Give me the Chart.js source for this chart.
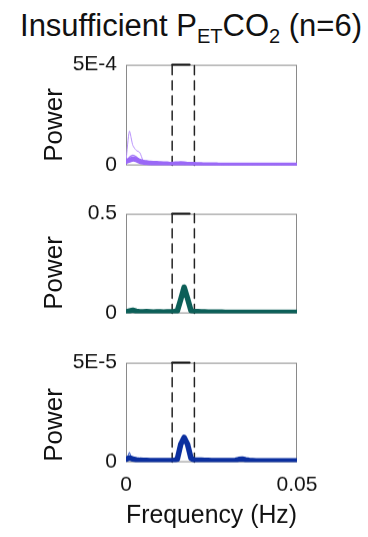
<!DOCTYPE html>
<html>
<head>
<meta charset="utf-8">
<script src="https://cdn.jsdelivr.net/npm/chart.js@4"></script>
<style>
  body { margin: 0; background: #fff; font-family: "Liberation Sans", Arial, sans-serif; }
  #page { position: relative; width: 368px; height: 537px; overflow: hidden; }
  .title { position: absolute; left: 0; width: 382px; top: 8px; text-align: center; font-size: 31px; color: #111; white-space: nowrap; }
  .title sub { font-size: 20px; vertical-align: -7px; line-height: 0; }
  .panel { position: absolute; left: 0; width: 368px; }
  .ylab { position: absolute; font-size: 26px; color: #111; transform: rotate(-90deg); transform-origin: center; width: 100px; text-align: center; line-height: 30px; }
</style>
</head>
<body>
<div id="page">
  <div class="title">Insufficient P<sub>ET</sub>CO<sub>2</sub> (n=6)</div>
  <div class="panel" style="top:43.4px;height:143.2px"><canvas id="c1"></canvas></div>
  <div class="panel" style="top:192.4px;height:142.2px"><canvas id="c2"></canvas></div>
  <div class="panel" style="top:341.4px;height:195.6px"><canvas id="c3"></canvas></div>
  <div class="ylab" style="left:3px;top:110px">Power</div>
  <div class="ylab" style="left:3px;top:258px">Power</div>
  <div class="ylab" style="left:3px;top:410px">Power</div>
</div>
<script>
const freq = [0, 0.001, 0.002, 0.003, 0.004, 0.005, 0.006, 0.007, 0.008, 0.009,
  0.010, 0.011, 0.012, 0.013, 0.014, 0.015, 0.016, 0.017, 0.018, 0.019,
  0.020, 0.021, 0.022, 0.023, 0.024, 0.025, 0.026, 0.027, 0.028, 0.029,
  0.030, 0.031, 0.032, 0.033, 0.034, 0.035, 0.036, 0.037, 0.038, 0.039,
  0.040, 0.041, 0.042, 0.043, 0.044, 0.045, 0.046, 0.047, 0.048, 0.049, 0.050];

// band of interest
const bandLow = 0.0135;
const bandHigh = 0.02;
const bandCap = 0.0186;

// panel 1: insufficient group, purple
const meanA = [2.0e-5, 2.6e-5, 3.2e-5, 2.9e-5, 2.1e-5, 1.6e-5, 1.4e-5, 1.2e-5, 1.1e-5, 1.1e-5,
  0.9e-5, 0.8e-5, 0.8e-5, 0.6e-5, 0.7e-5, 0.8e-5, 0.9e-5, 0.8e-5, 0.6e-5, 0.5e-5,
  0.5e-5, 0.4e-5, 0.4e-5, 0.3e-5, 0.3e-5, 0.3e-5, 0.3e-5, 0.2e-5, 0.2e-5, 0.2e-5,
  0.2e-5, 0.2e-5, 0.2e-5, 0.2e-5, 0.2e-5, 0.2e-5, 0.2e-5, 0.2e-5, 0.2e-5, 0.2e-5,
  0.2e-5, 0.2e-5, 0.2e-5, 0.2e-5, 0.2e-5, 0.2e-5, 0.2e-5, 0.2e-5, 0.2e-5, 0.2e-5, 0.2e-5];
const subA1 = [2.0e-5, 1.7e-4, 1.0e-4, 7.5e-5, 6.5e-5, 2.5e-5, 1.2e-5, 1.0e-5, 0.8e-5, 0.8e-5,
  0.6e-5, 0.5e-5, 0.5e-5, 0.4e-5, 0.5e-5, 0.6e-5, 0.6e-5, 0.5e-5, 0.4e-5, 0.3e-5,
  0.3e-5, 0.2e-5, 0.2e-5, 0.2e-5, 0.2e-5, 0.2e-5, 0.2e-5, 0.1e-5, 0.1e-5, 0.1e-5,
  0.1e-5, 0.1e-5, 0.1e-5, 0.1e-5, 0.1e-5, 0.1e-5, 0.1e-5, 0.1e-5, 0.1e-5, 0.1e-5,
  0.1e-5, 0.1e-5, 0.1e-5, 0.1e-5, 0.1e-5, 0.1e-5, 0.1e-5, 0.1e-5, 0.1e-5, 0.1e-5, 0.1e-5];
const subA2 = [1.0e-5, 4.0e-5, 5.0e-5, 4.2e-5, 2.5e-5, 1.8e-5, 1.5e-5, 1.4e-5, 1.3e-5, 1.2e-5,
  1.0e-5, 0.9e-5, 0.8e-5, 0.7e-5, 0.9e-5, 1.1e-5, 1.2e-5, 1.0e-5, 0.8e-5, 0.6e-5,
  0.5e-5, 0.4e-5, 0.4e-5, 0.3e-5, 0.3e-5, 0.3e-5, 0.3e-5, 0.3e-5, 0.2e-5, 0.2e-5,
  0.2e-5, 0.2e-5, 0.2e-5, 0.2e-5, 0.2e-5, 0.2e-5, 0.2e-5, 0.2e-5, 0.2e-5, 0.2e-5,
  0.2e-5, 0.2e-5, 0.2e-5, 0.2e-5, 0.2e-5, 0.2e-5, 0.2e-5, 0.2e-5, 0.2e-5, 0.2e-5, 0.2e-5];
const yTicksA = [0, 5e-4];
const yLabelsA = ["0", "5E-4"];

// panel 2: teal
const meanB = [0.008, 0.012, 0.016, 0.011, 0.008, 0.008, 0.009, 0.008, 0.007, 0.008,
  0.008, 0.007, 0.008, 0.008, 0.009, 0.012, 0.070, 0.132, 0.075, 0.014,
  0.009, 0.009, 0.008, 0.008, 0.007, 0.007, 0.007, 0.007, 0.007, 0.006,
  0.006, 0.006, 0.006, 0.006, 0.006, 0.006, 0.006, 0.006, 0.006, 0.006,
  0.006, 0.006, 0.006, 0.006, 0.006, 0.006, 0.006, 0.006, 0.006, 0.006, 0.006];
const yTicksB = [0, 0.5];
const yLabelsB = ["0", "0.5"];

// panel 3: blue
const meanC = [1.5e-6, 2.2e-6, 1.6e-6, 1.2e-6, 1.0e-6, 0.9e-6, 0.9e-6, 0.8e-6, 0.8e-6, 0.8e-6,
  0.8e-6, 0.8e-6, 0.8e-6, 0.8e-6, 0.9e-6, 1.5e-6, 9.0e-6, 1.25e-5, 9.0e-6, 2.0e-6,
  1.0e-6, 1.0e-6, 1.0e-6, 0.9e-6, 0.9e-6, 0.8e-6, 0.8e-6, 0.8e-6, 0.8e-6, 0.8e-6,
  0.8e-6, 0.8e-6, 1.0e-6, 1.4e-6, 1.6e-6, 1.2e-6, 0.9e-6, 0.8e-6, 0.7e-6, 0.7e-6,
  0.7e-6, 0.7e-6, 0.7e-6, 0.7e-6, 0.7e-6, 0.7e-6, 0.7e-6, 0.7e-6, 0.7e-6, 0.7e-6, 0.7e-6];
const subC1 = [1.0e-6, 5.0e-6, 1.0e-6, 0.8e-6, 0.8e-6, 0.7e-6, 0.7e-6, 0.7e-6];
const yTicksC = [0, 5e-5];
const yLabelsC = ["0", "5E-5"];

const xTicks = [0, 0.05];
const xLabels = ["0", "0.05"];

const toPts = (ys) => ys.map((y, i) => ({ x: freq[i], y: y }));

// grey frame round the plot area, under the traces
const framePlugin = {
  id: "frame",
  beforeDatasetsDraw(chart) {
    const a = chart.chartArea;
    const ctx = chart.ctx;
    ctx.save();
    ctx.strokeStyle = "#8a8a8a";
    ctx.lineWidth = 1;
    ctx.strokeRect(a.left + 0.5, a.top + 0.5, a.right - a.left - 1, a.bottom - a.top - 1);
    ctx.restore();
  },
};

function bandSets(ymax) {
  const dash = { borderColor: "#222", borderWidth: 1.5, borderDash: [9, 6], pointRadius: 0, order: 10, clip: 4, tension: 0 };
  return [
    Object.assign({ data: [{ x: bandLow, y: 0 }, { x: bandLow, y: ymax }] }, dash),
    Object.assign({ data: [{ x: bandHigh, y: 0 }, { x: bandHigh, y: ymax }] }, dash),
    { data: [{ x: bandLow, y: ymax }, { x: bandCap, y: ymax }], borderColor: "#111", borderWidth: 2, pointRadius: 0, order: 10, clip: 4, tension: 0 },
  ];
}

// tick labels add their own top/bottom room (about 21.6px), so no extra layout padding
function makeChart(id, sets, yTicks, yLabels, showX) {
  const ymax = yTicks[yTicks.length - 1];
  return new Chart(document.getElementById(id), {
    type: "line",
    data: { datasets: sets.concat(bandSets(ymax)) },
    options: {
      responsive: true,
      maintainAspectRatio: false,
      animation: false,
      layout: { padding: { left: 0, right: 71, top: 0, bottom: 0 } },
      plugins: { legend: { display: false }, tooltip: { enabled: false } },
      elements: { line: { tension: 0.25, borderCapStyle: "round", borderJoinStyle: "round" } },
      scales: {
        x: {
          type: "linear",
          min: 0,
          max: 0.05,
          display: showX,
          grid: { display: false, drawTicks: false },
          border: { display: false },
          afterBuildTicks: (s) => { s.ticks = xTicks.map((v) => ({ value: v })); },
          afterFit: (s) => { if (showX) s.height = 75; },
          ticks: {
            padding: 10,
            maxRotation: 0,
            color: "#111",
            font: { family: "Liberation Sans", size: 21 },
            callback: (v) => xLabels[xTicks.indexOf(v)],
          },
          title: {
            display: showX,
            text: "Frequency (Hz)",
            color: "#111",
            font: { family: "Liberation Sans", size: 26 },
            padding: { top: 0, bottom: 6 },
          },
        },
        y: {
          min: 0,
          max: ymax,
          grid: { display: false, drawTicks: false },
          border: { display: false },
          afterBuildTicks: (s) => { s.ticks = yTicks.map((v) => ({ value: v })); },
          afterFit: (s) => { s.width = 126; },
          ticks: {
            padding: 9,
            color: "#111",
            font: { family: "Liberation Sans", size: 21 },
            callback: (v) => yLabels[yTicks.indexOf(v)],
          },
        },
      },
    },
    plugins: [framePlugin],
  });
}

makeChart("c1", [
  { data: toPts(meanA), borderColor: "#9a68f7", borderWidth: 5, pointRadius: 0, order: 0 },
  { data: toPts(subA1), borderColor: "#b892fb", borderWidth: 1, pointRadius: 0, order: 1 },
  { data: toPts(subA2), borderColor: "#a77cf8", borderWidth: 1.5, pointRadius: 0, order: 2 },
], yTicksA, yLabelsA, false);

makeChart("c2", [
  { data: toPts(meanB), borderColor: "#0c5f58", borderWidth: 5.5, pointRadius: 0, order: 0, tension: 0 },
], yTicksB, yLabelsB, false);

makeChart("c3", [
  { data: toPts(meanC), borderColor: "#0b2f9f", borderWidth: 5.5, pointRadius: 0, order: 0, tension: 0 },
  { data: toPts(subC1), borderColor: "#3a5fc8", borderWidth: 1, pointRadius: 0, order: 1, tension: 0 },
], yTicksC, yLabelsC, true);
</script>
</body>
</html>
